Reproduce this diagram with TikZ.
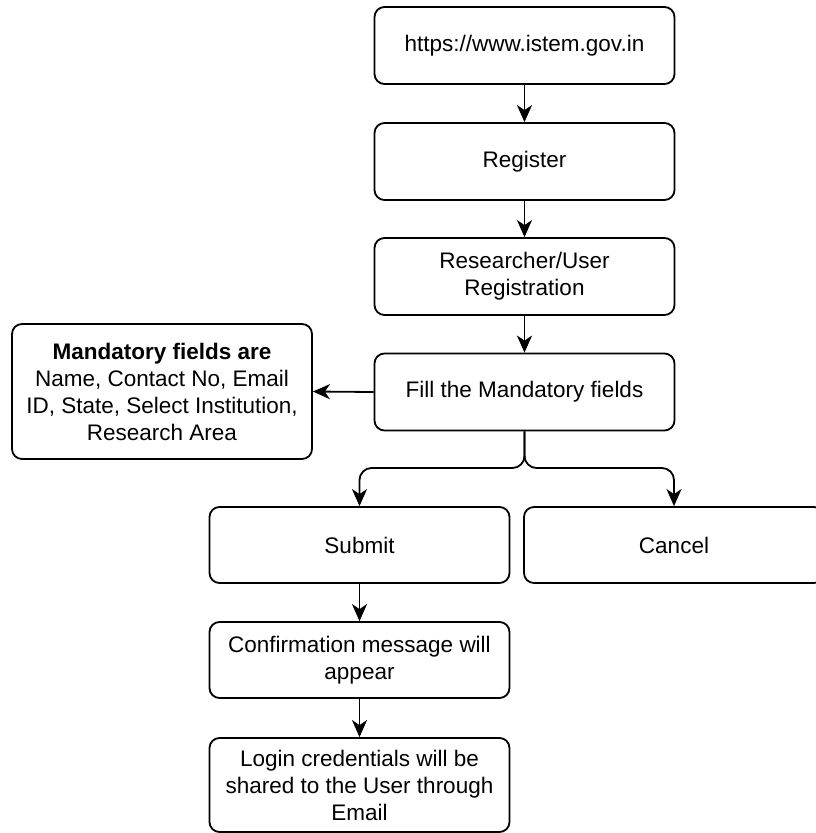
\documentclass[tikz,border=0pt]{standalone}
\usepackage{fontspec}
\setmainfont{Liberation Sans}
\usetikzlibrary{arrows.meta}

\begin{document}
\begin{tikzpicture}[x=1pt, y=-1pt,
  box/.style={draw, line width=1.8pt, rounded corners=10pt, align=center,
    minimum width=300pt, minimum height=77pt, inner sep=2pt,
    font=\fontsize{22.5}{27}\selectfont},
  arr/.style={line width=1.8pt, -{Stealth[length=17pt, width=15pt, inset=5pt]}}
]
\useasboundingbox (0,0) rectangle (816,833);
\clip (0,0) rectangle (816,833);

% main column
\node[box] (url) at (524.5,45.5) {https://www.istem.gov.in};
\node[box] (reg) at (524.5,161.5) {Register};
\node[box] (res) at (524.5,276.5) {Researcher/User\\Registration};
\node[box] (fill) at (524.5,392) {Fill the Mandatory fields};

% side note
\node[box, minimum height=135pt] (note) at (162,391.5)
  {\textbf{Mandatory fields are}\\Name, Contact No, Email\\ID, State, Select Institution,\\Research Area};

% branches
\node[box, minimum height=76pt] (submit) at (359.5,545) {Submit};
\node[box, minimum height=76pt] (cancel) at (674,545) {Cancel};
\node[box, minimum height=76pt] (confirm) at (359.5,660) {Confirmation message will\\appear};
\node[box, minimum height=94pt] (login) at (359.5,785) {Login credentials will be\\shared to the User through\\Email};

\coordinate (split) at (524.5,468);

% connectors
\draw[arr] (url) -- (reg);
\draw[arr] (reg) -- (res);
\draw[arr] (res) -- (fill);
\draw[arr] (fill.west) -- (note.east);
\draw[arr, rounded corners=12pt] (fill.south) -- (split) -| (submit.north);
\draw[arr, rounded corners=12pt] (fill.south) -- (split) -| (cancel.north);
\draw[arr] (submit) -- (confirm);
\draw[arr] (confirm) -- (login);
\end{tikzpicture}
\end{document}
